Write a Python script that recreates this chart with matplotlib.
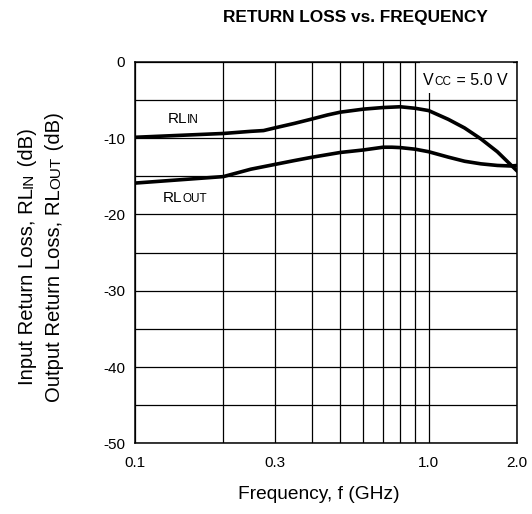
import matplotlib
matplotlib.use("Agg")
import matplotlib.pyplot as plt
from matplotlib.patches import Rectangle
from matplotlib.ticker import NullLocator

plt.rcParams["font.family"] = ["Liberation Sans", "DejaVu Sans"]

# Curves (GHz, dB)
freq_in = [0.1, 0.2, 0.248, 0.274, 0.3, 0.349, 0.4, 0.453, 0.5, 0.6, 0.7, 0.75, 0.8, 0.9,
           1.0, 1.167, 1.326, 1.508, 1.714, 1.899, 2.0]
rl_in = [-9.9, -9.4, -9.12, -9.02, -8.66, -8.08, -7.51, -6.97, -6.61, -6.21, -6.0, -5.95, -5.9, -6.1,
         -6.4, -7.55, -8.68, -10.12, -11.79, -13.46, -14.3]

freq_out = [0.1, 0.2, 0.248, 0.3, 0.349, 0.4, 0.5, 0.6, 0.7, 0.75, 0.8, 0.9,
            1.0, 1.167, 1.326, 1.508, 1.714, 1.899, 2.0]
rl_out = [-15.9, -15.05, -14.08, -13.45, -12.95, -12.52, -11.89, -11.56, -11.2, -11.2, -11.25, -11.46,
          -11.79, -12.5, -13.04, -13.38, -13.59, -13.66, -13.6]

# Axis ticks
x_ticks = [0.1, 0.2, 0.3, 0.4, 0.5, 0.6, 0.7, 0.8, 0.9, 1.0, 2.0]
x_labels = ["0.1", "", "0.3", "", "", "", "", "", "", "1.0", "2.0"]
y_ticks = [-50, -45, -40, -35, -30, -25, -20, -15, -10, -5, 0]
y_labels = ["-50", "", "-40", "", "-30", "", "-20", "", "-10", "", "0"]


def chain_text(ax, parts, x, y, coords, rotated=False, **kw):
    # text pieces of different sizes written one after another on one baseline
    prev = None
    for s, size in parts:
        opts = dict(fontsize=size, ha="left", va="baseline", annotation_clip=False, **kw)
        if rotated:
            opts.update(rotation=90, rotation_mode="anchor")
        if prev is None:
            prev = ax.annotate(s, xy=(x, y), xycoords=coords, **opts)
        elif rotated:
            prev = ax.annotate(s, xy=(x, 1), xycoords=(coords, prev),
                               xytext=(0, 0.3), textcoords="offset points", **opts)
        else:
            prev = ax.annotate(s, xy=(1, y), xycoords=(prev, coords),
                               xytext=(0.3, 0), textcoords="offset points", **opts)
    return prev


fig = plt.figure(figsize=(5.32, 5.14), dpi=100)
ax = fig.add_axes([0.2538, 0.1375, 0.718, 0.7424])

ax.plot(freq_in, rl_in, color="black", lw=2.6, zorder=3)
ax.plot(freq_out, rl_out, color="black", lw=2.6, zorder=3)

ax.set_xscale("log")
ax.set_xlim(0.1, 2.0)
ax.set_ylim(-50, 0)
ax.set_xticks(x_ticks)
ax.set_xticklabels(x_labels)
ax.xaxis.set_minor_locator(NullLocator())
ax.set_yticks(y_ticks)
ax.set_yticklabels(y_labels)
ax.tick_params(length=0, labelsize=11)
ax.tick_params(axis="x", pad=9)
ax.tick_params(axis="y", pad=7)
ax.grid(True, color="black", lw=0.9)
ax.set_axisbelow(True)
for sp in ax.spines.values():
    sp.set_linewidth(1.1)

# curve labels
chain_text(ax, [("RL", 11), ("IN", 8.5)], 0.0846, 0.840, ax.transAxes)
chain_text(ax, [("RL", 11), ("OUT", 8.5)], 0.0733, 0.6326, ax.transAxes)

ax.add_patch(Rectangle((0.746, 0.919), 0.244, 0.081, transform=ax.transAxes,
                       facecolor="white", edgecolor="none", zorder=1.5))
chain_text(ax, [("V", 11.5), ("CC", 8.5), (" = 5.0 V", 11.5)], 0.7547, 0.939,
           ax.transAxes, zorder=4)

# y label, two lines
chain_text(ax, [("Input Return Loss, RL", 14.6), ("IN", 11), (" (dB)", 14.6)],
           0.062, 0.251, fig.transFigure, rotated=True)
chain_text(ax, [("Output Return Loss, RL", 14.6), ("OUT", 11), (" (dB)", 14.6)],
           0.1128, 0.218, fig.transFigure, rotated=True)

fig.text(238.3 / 532, 1 - 499.3 / 514, "Frequency, f (GHz)", fontsize=13.8,
         ha="left", va="baseline")
fig.text(355 / 532, 1 - 21.7 / 514, "RETURN LOSS vs. FREQUENCY", fontsize=12.4,
         fontweight="bold", ha="center", va="baseline")

fig.savefig("out.png", dpi=100)
